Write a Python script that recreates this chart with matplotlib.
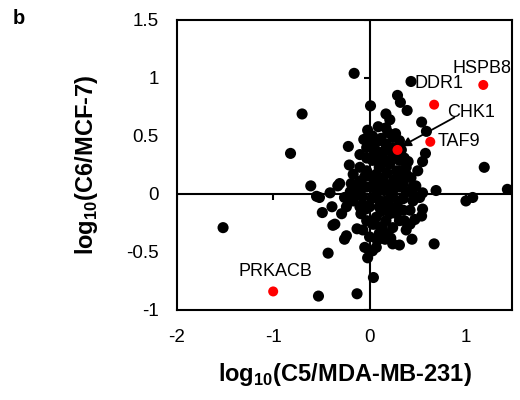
import matplotlib
matplotlib.use('Agg')
import matplotlib.pyplot as plt
import numpy as np

plt.rcParams['font.family'] = 'Liberation Sans'
plt.rcParams['mathtext.fontset'] = 'custom'
plt.rcParams['mathtext.rm'] = 'Liberation Sans'
plt.rcParams['mathtext.bf'] = 'Liberation Sans:bold'
plt.rcParams['axes.unicode_minus'] = False

# black points: log10(C5/MDA-MB-231), log10(C6/MCF-7)
bx = [-0.16, 0.43, -0.70, 0.29, 0.32, 0.39, 0.01, 0.54, 0.17, 0.21, 0.59, -0.82,
      1.19, 0.58, 0.55, -0.22, -0.21, -0.02, -0.06, 0.03, 0.19, -0.61, 0.69, 1.00,
      1.07, 1.43, -1.52, -0.49, -0.39, -0.29, -0.36, -0.38, -0.24, -0.26, -0.43,
      -0.13, -0.53, -0.13, 0.04, -0.02, -0.05, 0.03, 0.07, 0.16, 0.24, 0.31, 0.44,
      0.38, 0.36, 0.55, 0.54, 0.35, -0.52, -0.55, -0.41, -0.33, -0.31, -0.19, -0.26,
      -0.14, -0.10, -0.10, -0.03, 0.07, 0.17, 0.24, 0.36, 0.38, 0.43, 0.48, 0.55,
      0.45, 0.28, 0.10, 0.03, -0.03, 0.07, 0.17, 0.24, 0.31, -0.07, 0.00, 0.07,
      0.17, 0.24, -0.03, -0.09, 0.10, 0.00, 0.28, 0.21, 0.14, 0.07, 0.21, 0.31,
      -0.03, 0.03, -0.10, 0.10, 0.24, 0.31, 0.17, 0.28, 0.35, 0.10, 0.03, -0.10,
      -0.17, -0.24, -0.10, 0.10, 0.21, 0.31, 0.42, 0.03, -0.07, 0.17, 0.45, 0.52,
      -0.03, -0.17, 0.03, 0.14, 0.24, 0.38, 0.45, 0.67,
      0.05, 0.12, 0.18, 0.25, 0.32, 0.08, 0.15, 0.22, 0.30, 0.38, 0.02, -0.05,
      -0.08, 0.12, 0.20, 0.28, 0.05, 0.13, 0.33, 0.15, 0.00, 0.27, 0.09, 0.20,
      0.40, 0.35, 0.42, -0.12, -0.20, 0.26, 0.06, 0.11, 0.18, 0.34, -0.04, 0.08,
      0.22, 0.47, 0.50, 0.12]
by = [1.04, 0.97, 0.69, 0.85, 0.79, 0.72, 0.76, 0.62, 0.69, 0.64, 0.54, 0.35,
      0.23, 0.35, 0.28, 0.41, 0.25, 0.55, 0.47, 0.50, 0.53, 0.07, 0.03, -0.06,
      -0.03, 0.04, -0.29, -0.16, -0.11, -0.17, -0.26, -0.27, -0.36, -0.39, -0.51,
      -0.30, -0.88, -0.86, -0.72, -0.55, -0.46, -0.49, -0.46, -0.39, -0.43, -0.44, -0.39,
      -0.31, -0.23, -0.13, -0.19, -0.14, -0.03, -0.02, 0.01, 0.07, 0.09, 0.09, -0.03,
      0.00, 0.11, 0.23, 0.31, 0.34, 0.43, 0.40, 0.31, 0.23, 0.14, 0.07, 0.01,
      0.00, 0.20, 0.23, 0.14, 0.06, 0.00, -0.06, 0.00, 0.06, -0.09, -0.11, -0.20,
      -0.23, -0.29, -0.23, -0.17, -0.34, -0.37, -0.11, 0.06, 0.14, 0.17, 0.26, 0.29,
      0.40, 0.40, 0.34, 0.46, 0.49, 0.46, 0.57, 0.14, 0.09, 0.06, 0.06, 0.03,
      -0.06, -0.11, -0.11, -0.11, -0.17, -0.23, -0.26, -0.26, -0.31, -0.34, -0.06, -0.03,
      0.20, 0.17, 0.29, 0.31, 0.34, 0.17, 0.06, -0.43,
      0.30, 0.25, 0.18, 0.12, 0.20, 0.10, 0.03, -0.03, -0.06, 0.02, -0.04, 0.15,
      -0.02, -0.15, -0.10, -0.17, -0.26, -0.28, 0.38, 0.37, 0.44, 0.52, 0.58, 0.28,
      0.28, -0.04, -0.14, 0.05, 0.02, 0.34, 0.38, -0.06, 0.08, 0.12, -0.13, -0.40,
      -0.38, -0.22, 0.20, 0.48]

# highlighted genes
genes = ['HSPB8', 'DDR1', 'TAF9', 'CHK1', 'PRKACB']
gx = [1.18, 0.67, 0.63, 0.29, -1.00]
gy = [0.94, 0.77, 0.45, 0.38, -0.84]
# label anchor (left, middle)
lx = [0.86, 0.47, 0.71, 0.80, -1.36]
ly = [1.08, 0.95, 0.45, 0.70, -0.67]

xticks = [-2, -1, 0, 1]
yticks = [-1, -0.5, 0, 0.5, 1, 1.5]
ytick_labels = ['-1', '-0.5', '0', '0.5', '1', '1.5']

fig = plt.figure(figsize=(5.2, 4), dpi=100)
ax = fig.add_axes([0.340, 0.225, 0.645, 0.725])
ax.set_xlim(-2, 1.48)
ax.set_ylim(-1, 1.5)

# zero lines with small tick marks
ax.axhline(0, color='black', lw=1.5, zorder=1)
ax.axvline(0, color='black', lw=1.5, zorder=1)
ax.plot(xticks, np.zeros(len(xticks)), ls='none', marker=3, ms=4, mew=1.5, color='black', zorder=1)
ax.plot(np.zeros(len(yticks)), yticks, ls='none', marker=0, ms=4, mew=1.5, color='black', zorder=1)

ax.scatter(bx, by, s=64, color='black', edgecolors='none', zorder=2)
ax.scatter(gx, gy, s=52, color='#ff0000', edgecolors='none', zorder=3)

for name, x, y in zip(genes, lx, ly):
    ax.text(x, y, name, fontsize=13, ha='left', va='center', zorder=4)

ax.annotate('', xy=(0.33, 0.41), xytext=(0.88, 0.66),
            arrowprops=dict(arrowstyle='-|>', color='black', lw=1.3,
                            mutation_scale=14, shrinkA=0, shrinkB=0), zorder=4)

for sp in ax.spines.values():
    sp.set_linewidth(1.5)
ax.set_xticks(xticks)
ax.set_yticks(yticks)
ax.set_yticklabels(ytick_labels)
ax.tick_params(length=0, labelsize=13.5)
ax.tick_params(axis='x', pad=14)
ax.tick_params(axis='y', pad=13)

ax.set_xlabel('log$_{\\mathbf{10}}$(C5/MDA-MB-231)', fontsize=17, fontweight='bold')
ax.set_ylabel('log$_{\\mathbf{10}}$(C6/MCF-7)', fontsize=17, fontweight='bold')
ax.xaxis.set_label_coords(0.5, -0.175)
ax.yaxis.set_label_coords(-0.228, 0.5)

fig.text(0.025, 0.955, 'b', fontsize=14.5, fontweight='bold', ha='left', va='center')

fig.savefig('out.png', dpi=100)
